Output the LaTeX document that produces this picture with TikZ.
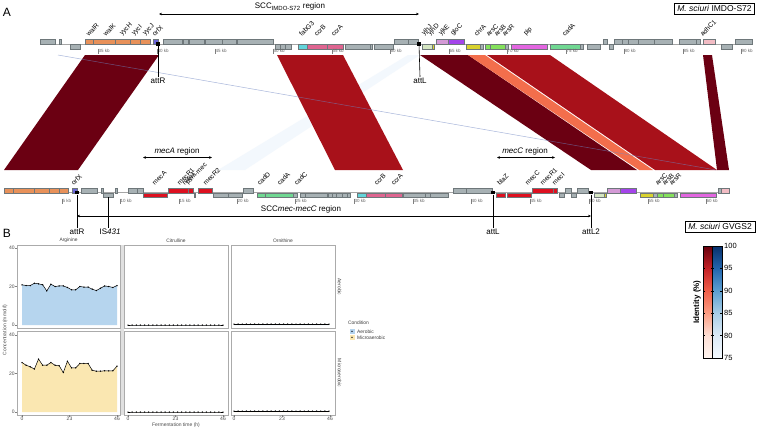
\documentclass[tikz,border=0pt]{standalone}
\usepackage{fontspec}
\setmainfont{Liberation Sans}
\usetikzlibrary{arrows.meta}
\definecolor{ggray}{HTML}{A7B1B4}
\definecolor{gbd}{HTML}{6E777A}
\definecolor{gorange}{HTML}{E8915A}
\definecolor{gblue}{HTML}{6A66D8}
\definecolor{gcyan}{HTML}{62D4DA}
\definecolor{gpink}{HTML}{DE6590}
\definecolor{gpale}{HTML}{D5E6C2}
\definecolor{gyel}{HTML}{D8D22E}
\definecolor{glilac}{HTML}{D49AD6}
\definecolor{gpurp}{HTML}{A444EA}
\definecolor{ggreen}{HTML}{84E05C}
\definecolor{gmag}{HTML}{E266E0}
\definecolor{gmint}{HTML}{70D892}
\definecolor{grose}{HTML}{F2BCC4}
\definecolor{gred}{HTML}{DD1020}
\definecolor{rdark}{HTML}{6B0012}
\definecolor{rmed}{HTML}{A8111A}
\definecolor{rorange}{HTML}{F36E4C}
\definecolor{faintblue}{HTML}{F3F8FD}
\definecolor{linkblue}{HTML}{6F86C2}
\definecolor{aerfill}{HTML}{B6D5EE}
\definecolor{micfill}{HTML}{FAE7B1}
\definecolor{pbd}{HTML}{ABABAB}
\definecolor{r75}{HTML}{FFF5F0}
\definecolor{r80}{HTML}{FDE0D6}
\definecolor{r85}{HTML}{FC9E84}
\definecolor{r90}{HTML}{F0604A}
\definecolor{r95}{HTML}{C42227}
\definecolor{r100}{HTML}{67000D}
\definecolor{b75}{HTML}{F5FAFF}
\definecolor{b80}{HTML}{DCEAF7}
\definecolor{b85}{HTML}{A9CDE6}
\definecolor{b90}{HTML}{5D9FD1}
\definecolor{b95}{HTML}{2366AE}
\definecolor{b100}{HTML}{08306B}
% gene box macros: top track backbone y=44, bottom track backbone y=192.7
\newcommand{\TU}[3]{\filldraw[gene,fill=#3] (#1,39.3) rectangle (#2,44);}
\newcommand{\TL}[3]{\filldraw[gene,fill=#3] (#1,44) rectangle (#2,48.7);}
\newcommand{\BU}[3]{\filldraw[gene,fill=#3] (#1,188) rectangle (#2,192.7);}
\newcommand{\BL}[3]{\filldraw[gene,fill=#3] (#1,192.7) rectangle (#2,197.4);}
\newcommand{\tk}[4]{\draw[tickln] (#2,#3) -- (#2,#3+5); \node[ticklab] (#1) at (#2,#3+2.5) {#4 kb};}
\newcommand{\glab}[4]{\node[glab] (#1) at (#2,#3) {#4};}
\newcommand{\series}[5]{%
 \fill[#5] (#1,#2) -- (#1,#2-#3*1.925) \foreach \v [count=\i from 0] in {#4} {-- (#1+\i*4.1304,#2-\v*1.925)} -- (#1+95,#2) -- cycle;
 \draw[serln] (#1,#2-#3*1.925) \foreach \v [count=\i from 0] in {#4} {-- (#1+\i*4.1304,#2-\v*1.925)};
 \foreach \v [count=\i from 0] in {#4} \fill (#1+\i*4.1304,#2-\v*1.925) circle (0.75);
}
\begin{document}
\begin{tikzpicture}[x=1pt,y=-1pt,
 gene/.style={draw=gbd,line width=0.3pt},
 glab/.style={font=\fontsize{6.6}{6.6}\selectfont,rotate=45,anchor=south west,inner sep=0.3pt},
 ticklab/.style={font=\fontsize{4.5}{4.5}\selectfont,text=black!60,anchor=west,inner sep=0.5pt},
 tickln/.style={draw=black!50,line width=0.3pt},
 backbone/.style={draw=black!35,line width=0.5pt},
 attsq/.style={fill=black,minimum size=3.2pt,inner sep=0pt,rectangle},
 attlab/.style={font=\fontsize{8}{8}\selectfont,inner sep=0.5pt,anchor=north},
 attln/.style={line width=0.6pt},
 regarrow/.style={line width=0.6pt,{Stealth[length=3pt,width=2.6pt]}-{Stealth[length=3pt,width=2.6pt]}},
 reglab/.style={font=\fontsize{8}{8}\selectfont,inner sep=0.5pt},
 panlab/.style={font=\fontsize{12}{12}\selectfont,inner sep=0pt},
 strainbox/.style={draw=black,line width=0.5pt,font=\fontsize{8.5}{8.5}\selectfont,inner xsep=3pt,inner ysep=2.5pt},
 pborder/.style={draw=pbd,line width=0.7pt},
 serln/.style={draw=black,line width=0.5pt},
 axlab/.style={font=\fontsize{5}{5}\selectfont,text=black!70,inner sep=0.5pt},
 striplab/.style={font=\fontsize{4.9}{4.9}\selectfont,text=black!75,inner sep=0.5pt},
 cblab/.style={font=\fontsize{7.5}{7.5}\selectfont,anchor=west,inner sep=0.5pt}
]
\useasboundingbox (0,0) rectangle (760,429);
\fill[white] (0,0) rectangle (760,429);

% ===== Panel A labels =====
\node[panlab] (labA) at (7,12) {A};
\node[strainbox] (strainTop) at (714.5,8.5) {\textit{M. sciuri} IMDO-S72};
\node[strainbox] (strainBot) at (720,226.5) {\textit{M. sciuri} GVGS2};

% ===== ribbons =====
\fill[faintblue] (408,55) -- (420,55) -- (245,170) -- (218,170) -- cycle;
\fill[rdark] (85,55) -- (159,55) -- (78,170) -- (4,170) -- cycle;
\fill[rmed] (277,55) -- (343,55) -- (403,170) -- (335,170) -- cycle;
\fill[rdark] (420,55) -- (468,55) -- (637,170) -- (591,170) -- cycle;
\fill[rorange] (468,55) -- (485,55) -- (653,170) -- (639,170) -- cycle;
\fill[rmed] (487,55) -- (550,55) -- (717,170) -- (655,170) -- cycle;
\fill[rdark] (703,55) -- (712,55) -- (729,170) -- (717,170) -- cycle;
\draw[linkblue,opacity=0.6,line width=0.5pt] (58,55) -- (716,170);

% ===== top track =====
\draw[backbone] (40,44) -- (752,44);
\TU{40}{55}{ggray} \TU{59}{61}{ggray} \TL{70}{80}{ggray}
\TU{85}{93}{gorange}\TU{93}{115}{gorange}\TU{115}{130}{gorange}\TU{130}{140}{gorange}\TU{140}{150}{gorange}
\TU{153}{158}{gblue}
\TU{163}{182}{ggray}\TU{183}{188}{ggray}\TU{189}{204}{ggray}\TU{205}{222}{ggray}\TU{222}{236}{ggray}\TU{237}{273}{ggray}
\TL{275}{280}{ggray}\TL{280}{285}{ggray}\TL{285}{291}{ggray}
\TL{298}{307}{gcyan}\TL{307}{327}{gpink}\TL{327}{343}{gpink}
\TL{345}{370}{ggray}\TL{370}{372}{ggray}\TL{374}{393}{ggray}
\TU{394}{408}{ggray}\TU{408}{418}{ggray}
\TL{422}{432}{gpale}\TL{432}{434}{gyel}
\TU{436}{448}{glilac}\TU{448}{464}{gpurp}
\TL{466}{480}{gyel}\TL{480}{483}{ggray}
\TL{485}{490}{ggreen}\TL{490}{505}{ggreen}\TL{505}{508}{ggray}
\TL{511}{547}{gmag}
\TL{550}{580}{gmint}\TL{580}{583}{ggray}
\TL{587}{600}{ggray}
\TU{603}{607}{ggray}\TL{609}{613}{ggray}
\TU{614}{622}{ggray}\TU{622}{628}{ggray}\TU{628}{638}{ggray}\TU{638}{654}{ggray}\TU{654}{672}{ggray}
\TU{679}{696}{ggray}\TU{696}{700}{ggray}
\TU{703}{715}{grose}
\TL{721}{732}{ggray}
\TU{735}{752}{ggray}
\tk{t35}{98}{48.5}{35}\tk{t40}{157}{48.5}{40}\tk{t45}{215}{48.5}{45}\tk{t50}{273}{48.5}{50}
\tk{t55}{332}{48.5}{55}\tk{t60}{390}{48.5}{60}\tk{t65}{449}{48.5}{65}\tk{t70}{507}{48.5}{70}
\tk{t75}{566}{48.5}{75}\tk{t80}{624}{48.5}{80}\tk{t85}{683}{48.5}{85}\tk{t90}{741}{48.5}{90}
\glab{gwalR}{89}{37.5}{walR}\glab{gwalK}{106}{37.5}{walK}\glab{gyycH}{123}{37.5}{yycH}
\glab{gyycI}{135}{37.5}{yycI}\glab{gyycJ}{146}{37.5}{yycJ}\glab{gorfX}{155}{37.5}{orfX}
\glab{gfabG}{302}{37.5}{fabG3}\glab{gccrB}{317}{37.5}{ccrB}\glab{gccrA}{334}{37.5}{ccrA}
\glab{gyjhJ}{425}{37.5}{yjhJ}\glab{gyjhD}{431}{37.5}{yjhD}\glab{gyjkE}{442}{37.5}{yjkE}
\glab{ggloC}{454}{37.5}{gloC}\glab{gchrA}{477}{37.5}{chrA}\glab{garsC}{489}{37.5}{arsC}
\glab{garsB}{497}{37.5}{arsB}\glab{garsR}{505}{37.5}{arsR}\glab{gpip}{527}{37.5}{pip}
\glab{gcadA}{565}{37.5}{cadA}\glab{gadhC}{703}{37.5}{adhC1}
% SCC region arrow
\coordinate (sccL) at (159,14);
\coordinate (sccR) at (419,14);
\draw[regarrow] (sccL) -- (sccR);
\node[reglab] (scclab) at (290,6.5) {SCC\textsubscript{IMDO-S72} region};
% att sites top
\node[attsq] (attRt) at (158,44) {};
\node[attlab] (attRtl) at (158,77) {attR};
\draw[attln] (attRt) -- (attRtl.north);
\node[attsq] (attLt) at (419,44) {};
\node[attlab] (attLtl) at (420,77) {attL};
\draw[attln] (attLt) -- (attLtl.north);

% ===== bottom track =====
\draw[backbone] (4,192.7) -- (729,192.7);
\BU{4}{13}{gorange}\BU{13}{34}{gorange}\BU{34}{49}{gorange}\BU{49}{59}{gorange}\BU{59}{68}{gorange}
\BU{72}{77}{gblue}
\BU{81}{97}{ggray}\BU{101}{103}{ggray}\BL{103}{113}{ggray}\BU{115}{117}{ggray}
\BU{128}{137}{ggray}\BU{137}{143}{ggray}
\BL{143}{167}{gred}
\BU{168}{188}{gred}\BU{188}{193}{gred}
\BL{194}{195}{gred}
\BU{198}{212}{gred}
\BL{213}{228}{ggray}\BL{228}{242}{ggray}
\BU{243}{253}{ggray}
\BL{257}{265}{gmint}\BL{265}{293}{gmint}\BL{293}{297}{ggray}
\BL{300}{305}{ggray}\BL{305}{327}{ggray}
\BL{328}{332}{ggray}\BL{332}{336}{ggray}\BL{336}{342}{ggray}\BL{342}{347}{ggray}\BL{347}{350}{ggray}
\BL{357}{366}{gcyan}\BL{366}{385}{gpink}\BL{385}{402}{gpink}
\BL{403}{425}{ggray}\BL{425}{430}{ggray}\BL{430}{448}{ggray}
\BU{453}{466}{ggray}\BU{466}{492}{ggray}
\BL{496}{505}{gred}\BL{507}{531}{gred}
\BU{532}{553}{gred}\BU{553}{557}{gred}
\BL{559}{564}{ggray}\BU{565}{571}{ggray}\BL{571}{576}{ggray}\BU{577}{588}{ggray}
\BL{594}{604}{gpale}\BL{604}{606}{gyel}
\BU{607}{620}{glilac}\BU{620}{636}{gpurp}
\BL{640}{653}{gyel}\BL{653}{657}{ggray}\BL{657}{663}{ggreen}\BL{663}{674}{ggreen}\BL{674}{677}{ggray}
\BL{680}{716}{gmag}
\BU{718}{721}{ggray}\BU{721}{729}{grose}
\tk{b5}{62}{198.5}{5}\tk{b10}{120}{198.5}{10}\tk{b15}{179}{198.5}{15}\tk{b20}{237}{198.5}{20}
\tk{b25}{295}{198.5}{25}\tk{b30}{354}{198.5}{30}\tk{b35}{413}{198.5}{35}\tk{b40}{471}{198.5}{40}
\tk{b45}{530}{198.5}{45}\tk{b50}{589}{198.5}{50}\tk{b55}{648}{198.5}{55}\tk{b60}{706}{198.5}{60}
\glab{hmorfX}{74}{186.5}{orfX}\glab{hmecA}{155}{186.5}{mecA}\glab{hmecR1}{180}{186.5}{mecR1}
\glab{hmecI}{185}{186.5}{mecI}\glab{hpsm}{189}{186.5}{psm-mec}\glab{hmecR2}{206}{186.5}{mecR2}
\glab{hcadD}{260}{186.5}{cadD}\glab{hcadA}{280}{186.5}{cadA}\glab{hcadC}{297}{186.5}{cadC}
\glab{hccrB}{377}{186.5}{ccrB}\glab{hccrA}{394}{186.5}{ccrA}\glab{hblaZ}{500}{186.5}{blaZ}
\glab{hmecC}{528}{186.5}{mecC}\glab{hmecR1b}{543}{186.5}{mecR1}\glab{hmecIb}{555}{186.5}{mecI}
\glab{harsC}{658}{186.5}{arsC}\glab{harsB}{665}{186.5}{arsB}\glab{harsR}{672}{186.5}{arsR}
% region arrows
\coordinate (mecAl) at (143,157.5); \coordinate (mecAr) at (212,157.5);
\draw[regarrow] (mecAl) -- (mecAr);
\node[reglab] (mecAlab) at (177,151.5) {\textit{mecA} region};
\coordinate (mecCl) at (497,157.5); \coordinate (mecCr) at (555,157.5);
\draw[regarrow] (mecCl) -- (mecCr);
\node[reglab] (mecClab) at (525,151.5) {\textit{mecC} region};
\coordinate (sccmL) at (77,216); \coordinate (sccmR) at (591,216);
\draw[regarrow] (sccmL) -- (sccmR);
\node[reglab] (sccmlab) at (301,209) {SCC\textit{mec}-\textit{mecC} region};
% att sites bottom
\node[attsq] (attRb) at (77,192.7) {};
\node[attlab] (attRbl) at (77,228) {attR};
\draw[attln] (attRb) -- (attRbl.north);
\coordinate (isbox) at (108,197.4);
\node[attlab] (isl) at (110,228) {IS\textit{431}};
\draw[attln] (isbox) -- (isbox |- isl.north);
\node[attsq] (attLb) at (493,192.7) {};
\node[attlab] (attLbl) at (493,228) {attL};
\draw[attln] (attLb) -- (attLbl.north);
\node[attsq] (attL2b) at (591,192.7) {};
\node[attlab] (attL2bl) at (591,228) {attL2};
\draw[attln] (attL2b) -- (attL2bl.north);

% ===== Panel B =====
\node[panlab] (labB) at (7,233) {B};
\fill[black!12] (120.4,245) rectangle (123.6,415);
\series{22}{325}{20.9}{20.9,20.5,20.5,21.7,21.4,20.9,17.7,21.2,20,20.3,20.3,19.5,18.3,18.3,20,19.7,19.7,18.6,17.9,19.1,20.3,20,19.5,20.5}{aerfill}
\series{22}{412}{25.7}{25.7,24.3,23.5,22.3,27.5,24.3,24.3,25.7,24.3,24,20.5,26.4,22.9,22.9,25.2,25.2,25.2,21.7,21.2,21.2,21.4,21.4,21.4,23.8}{micfill}
\series{128}{325}{0}{0,0,0,0,0,0,0,0,0,0,0,0,0,0,0,0,0,0,0,0,0,0,0,0}{aerfill}
\series{128}{412}{0}{0,0,0,0,0,0,0,0,0,0,0,0,0,0,0,0,0,0,0,0,0,0,0,0}{micfill}
\series{234}{325}{0.5}{0.5,0.5,0.5,0.5,0.5,0.5,0.5,0.5,0.5,0.5,0.5,0.5,0.5,0.5,0.5,0.5,0.5,0.5,0.5,0.5,0.5,0.5,0.5,0.5}{aerfill}
\series{234}{412}{0.5}{0.5,0.5,0.5,0.5,0.5,0.5,0.5,0.5,0.5,0.5,0.5,0.5,0.5,0.5,0.5,0.5,0.5,0.5,0.5,0.5,0.5,0.5,0.5,0.5}{micfill}
\draw[pborder] (17,245) rectangle (120,328);
\draw[pborder] (124,245) rectangle (228,328);
\draw[pborder] (231,245) rectangle (335,328);
\draw[pborder] (17,331) rectangle (120,415);
\draw[pborder] (124,331) rectangle (228,415);
\draw[pborder] (231,331) rectangle (335,415);
% y axes
\foreach \yy/\lab [count=\k] in {325/0,286.5/20,248/40,412/0,373.5/20,335/40}{
  \draw[black!50,line width=0.3pt] (15.3,\yy) -- (17,\yy);
  \node[axlab,anchor=east] (ya\k) at (15.3,\yy) {\lab};
}
% x axes
\foreach \xx/\lab [count=\k] in {22/0,69.5/23,117/46,128/0,175.5/23,223/46,234/0,282/23,330/46}{
  \draw[black!50,line width=0.3pt] (\xx,415) -- (\xx,416.7);
  \node[axlab,anchor=north] (xa\k) at (\xx,416.5) {\lab};
}
\node[axlab,rotate=90] (ytitle) at (5,330) {Concentration (mmol/l)};
\node[axlab] (xtitle) at (176,425.5) {Fermentation time (h)};
\node[striplab] (s1) at (68.5,240.5) {Arginine};
\node[striplab] (s2) at (176,240.5) {Citrulline};
\node[striplab] (s3) at (283,240.5) {Ornithine};
\node[striplab,rotate=-90] (r1) at (339.5,287) {Aerobic};
\node[striplab,rotate=-90] (r2) at (339.5,373) {Microaerobic};
% legend
\node[striplab,anchor=west] (legt) at (347.5,323) {Condition};
\fill[aerfill] (349.5,328.8) rectangle (354.5,333.8);
\fill (352,331.3) circle (0.7);
\node[striplab,anchor=west] (leg1) at (356.5,331.3) {Aerobic};
\fill[micfill] (349.5,334.8) rectangle (354.5,339.8);
\fill (352,337.3) circle (0.7);
\node[striplab,anchor=west] (leg2) at (356.5,337.3) {Microaerobic};

% ===== colour bar =====
\shade[top color=r80,bottom color=r75] (703,335.6) rectangle (712,358);
\shade[top color=r85,bottom color=r80] (703,313.2) rectangle (712,335.8);
\shade[top color=r90,bottom color=r85] (703,290.8) rectangle (712,313.4);
\shade[top color=r95,bottom color=r90] (703,268.4) rectangle (712,291);
\shade[top color=r100,bottom color=r95] (703,246) rectangle (712,268.6);
\shade[top color=b80,bottom color=b75] (712,335.6) rectangle (722,358);
\shade[top color=b85,bottom color=b80] (712,313.2) rectangle (722,335.8);
\shade[top color=b90,bottom color=b85] (712,290.8) rectangle (722,313.4);
\shade[top color=b95,bottom color=b90] (712,268.4) rectangle (722,291);
\shade[top color=b100,bottom color=b95] (712,246) rectangle (722,268.6);
\draw[black,line width=0.5pt] (703,246) rectangle (712,358);
\draw[black,line width=0.5pt] (712,246) rectangle (722,358);
\foreach \yy/\lab [count=\k] in {358/75,335.6/80,313.2/85,290.8/90,268.4/95,246/100}{
  \draw[black,line width=0.5pt] (703,\yy) -- (705,\yy) (710.5,\yy) -- (713.5,\yy) (720,\yy) -- (722,\yy);
  \node[cblab] (cb\k) at (723.5,\yy) {\lab};
}
\node[font=\bfseries\fontsize{8}{8}\selectfont,rotate=90,inner sep=0.5pt] (cbtitle) at (697,302) {Identity (\%)};
\end{tikzpicture}
\end{document}
